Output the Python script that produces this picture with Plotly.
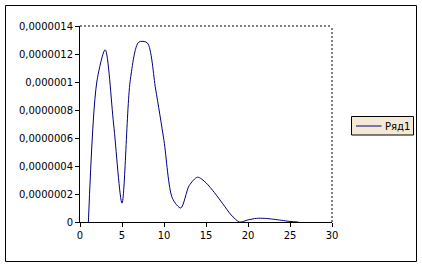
import plotly.graph_objects as go

x_vals = [1, 2, 3, 4, 5, 6, 7, 8, 9, 10, 11, 12, 13, 14, 15, 16, 17, 18, 19, 20, 21, 22, 23, 24, 25, 26]
y_vals = [0.0, 1.0e-6, 1.23e-6, 0.70e-6, 0.135e-6, 1.02e-6, 1.285e-6, 1.28e-6, 0.95e-6, 0.58e-6,
          0.17e-6, 0.10e-6, 0.26e-6, 0.32e-6, 0.28e-6, 0.21e-6, 0.13e-6, 0.05e-6, 0.0, 0.015e-6,
          0.026e-6, 0.026e-6, 0.02e-6, 0.012e-6, 0.004e-6, 0.0]
series_name = "Ряд1"
y_tick_vals = [0, 2e-7, 4e-7, 6e-7, 8e-7, 1e-6, 1.2e-6, 1.4e-6]
y_tick_text = ["0", "0,0000002", "0,0000004", "0,0000006", "0,0000008", "0,000001", "0,0000012", "0,0000014"]
x_tick_vals = [0, 5, 10, 15, 20, 25, 30]

W, H = 422, 267
L, R, T, B = 80, 332, 26, 222
pw, ph = R - L, B - T
line_color = "#000080"

def px(p):
    return (p - L) / pw

def py(p):
    return (B - p) / ph

fig = go.Figure()
fig.add_trace(go.Scatter(x=x_vals, y=y_vals, mode="lines", name=series_name,
                         line=dict(color=line_color, width=1, shape="spline", smoothing=0.8),
                         showlegend=False))

fig.update_layout(
    width=W, height=H,
    margin=dict(l=L, r=W - R, t=T, b=H - B, pad=0, autoexpand=False),
    paper_bgcolor="white", plot_bgcolor="white",
    font=dict(family="DejaVu Sans", size=10, color="black"),
    showlegend=False,
    xaxis=dict(range=[0, 30], tickvals=x_tick_vals, showgrid=False, zeroline=False,
               showline=True, linecolor="black", linewidth=1, ticks="outside",
               ticklen=4, tickcolor="black", fixedrange=True),
    yaxis=dict(range=[0, 1.4e-6], tickvals=y_tick_vals, ticktext=y_tick_text,
               showgrid=False, zeroline=False, showline=True, linecolor="black",
               linewidth=1, ticks="outside", ticklen=4, tickcolor="black", fixedrange=True),
    shapes=[
        dict(type="line", xref="paper", yref="paper", x0=0, x1=1, y0=1, y1=1,
             line=dict(color="black", width=1, dash="2px,2px")),
        dict(type="line", xref="paper", yref="paper", x0=1, x1=1, y0=0, y1=1,
             line=dict(color="black", width=1, dash="2px,2px")),
        dict(type="rect", xref="paper", yref="paper", x0=px(5.5), x1=px(416.5),
             y0=py(261.5), y1=py(5.5), line=dict(color="black", width=1)),
        # legend box
        dict(type="rect", xref="paper", yref="paper", x0=px(351.5), x1=px(413.5),
             y0=py(135), y1=py(116.5), fillcolor="#F3E9D4",
             line=dict(color="black", width=1), layer="above"),
        dict(type="line", xref="paper", yref="paper", x0=px(356), x1=px(381.5),
             y0=py(126), y1=py(126), line=dict(color=line_color, width=1), layer="above"),
    ],
    annotations=[
        dict(text=series_name, xref="paper", yref="paper", x=px(382.5), y=py(126),
             xanchor="left", yanchor="middle", showarrow=False,
             font=dict(family="DejaVu Sans", size=10, color="black")),
    ],
)

fig.write_html("out.html", config={"displayModeBar": False})
